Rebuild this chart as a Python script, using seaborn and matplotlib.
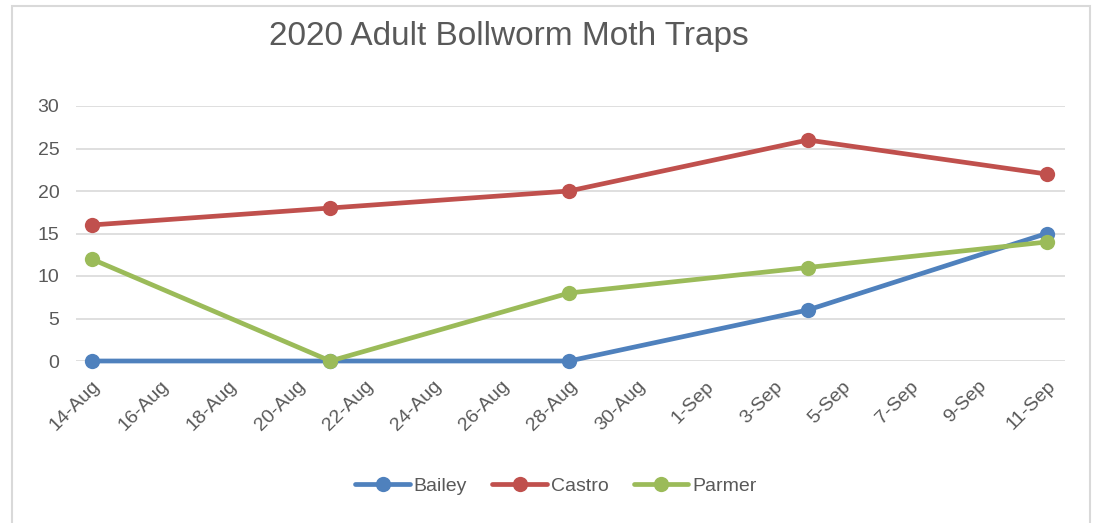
import matplotlib
matplotlib.use("Agg")
import matplotlib.pyplot as plt
from matplotlib.patches import Rectangle
import numpy as np
import pandas as pd
import seaborn as sns

# Trap dates and weekly counts per county
dates = ["2020-08-14", "2020-08-21", "2020-08-28", "2020-09-04", "2020-09-11"]
bailey = [0, 0, 0, 6, 15]
castro = [16, 18, 20, 26, 22]
parmer = [12, 0, 8, 11, 14]
series_names = ["Bailey", "Castro", "Parmer"]
colors = ["#4F81BD", "#C0504D", "#9BBB59"]

df = pd.DataFrame({
    "date": pd.to_datetime(dates * 3),
    "count": bailey + castro + parmer,
    "site": [n for n in series_names for _ in dates],
})

sns.set_theme(style="white")
plt.rcParams["font.family"] = ["Liberation Sans", "DejaVu Sans"]

fig = plt.figure(figsize=(10.99, 5.23), dpi=100)
ax = fig.add_axes([76 / 1099, 1 - 361 / 523, 989 / 1099, 255 / 523])

sns.lineplot(data=df, x="date", y="count", hue="site", hue_order=series_names,
             palette=colors, marker="o", markersize=11, markeredgewidth=0,
             linewidth=3.4, ax=ax)
for ln in ax.lines:
    ln.set_clip_on(False)
    ln.set_zorder(3)

# axes limits and ticks
start = pd.Timestamp("2020-08-14")
end = pd.Timestamp("2020-09-11")
ax.set_xlim(start - pd.Timedelta(hours=11), end + pd.Timedelta(hours=13))
ax.set_ylim(0, 30)
ax.set_yticks(np.arange(0, 31, 5))
ticks = pd.date_range(start, end, freq="2D")
ax.set_xticks(ticks)
ax.set_xticklabels([f"{d.day}-{d:%b}" for d in ticks], rotation=45,
                   ha="right", rotation_mode="anchor")
ax.tick_params(axis="x", length=0, pad=12, labelsize=14, labelcolor="#595959")
ax.tick_params(axis="y", length=0, pad=12, labelsize=14, labelcolor="#595959")
ax.yaxis.grid(True, color="#D9D9D9", linewidth=1.2)
ax.xaxis.grid(False)
for s in ax.spines.values():
    s.set_visible(False)
ax.set_xlabel("")
ax.set_ylabel("")

# legend below
handles, labels = ax.get_legend_handles_labels()
for h in handles:
    h.set_markersize(11)
ax.legend(handles, labels, loc="center", bbox_to_anchor=(556 / 1099, 1 - 486 / 523),
          bbox_transform=fig.transFigure, ncol=3, frameon=False, fontsize=14,
          labelcolor="#595959", handlelength=2.8, handletextpad=0.2,
          columnspacing=1.3)

fig.text(509 / 1099, 1 - 36 / 523, "2020 Adult Bollworm Moth Traps",
         ha="center", va="center", fontsize=24, color="#595959")

# chart border
fig.patches.append(Rectangle((12 / 1099, -0.05), 1078 / 1099, 1.05 - 6 / 523,
                             transform=fig.transFigure, fill=False,
                             edgecolor="#D9D9D9", linewidth=1.5))

fig.savefig("out.png", dpi=100, facecolor="white")
